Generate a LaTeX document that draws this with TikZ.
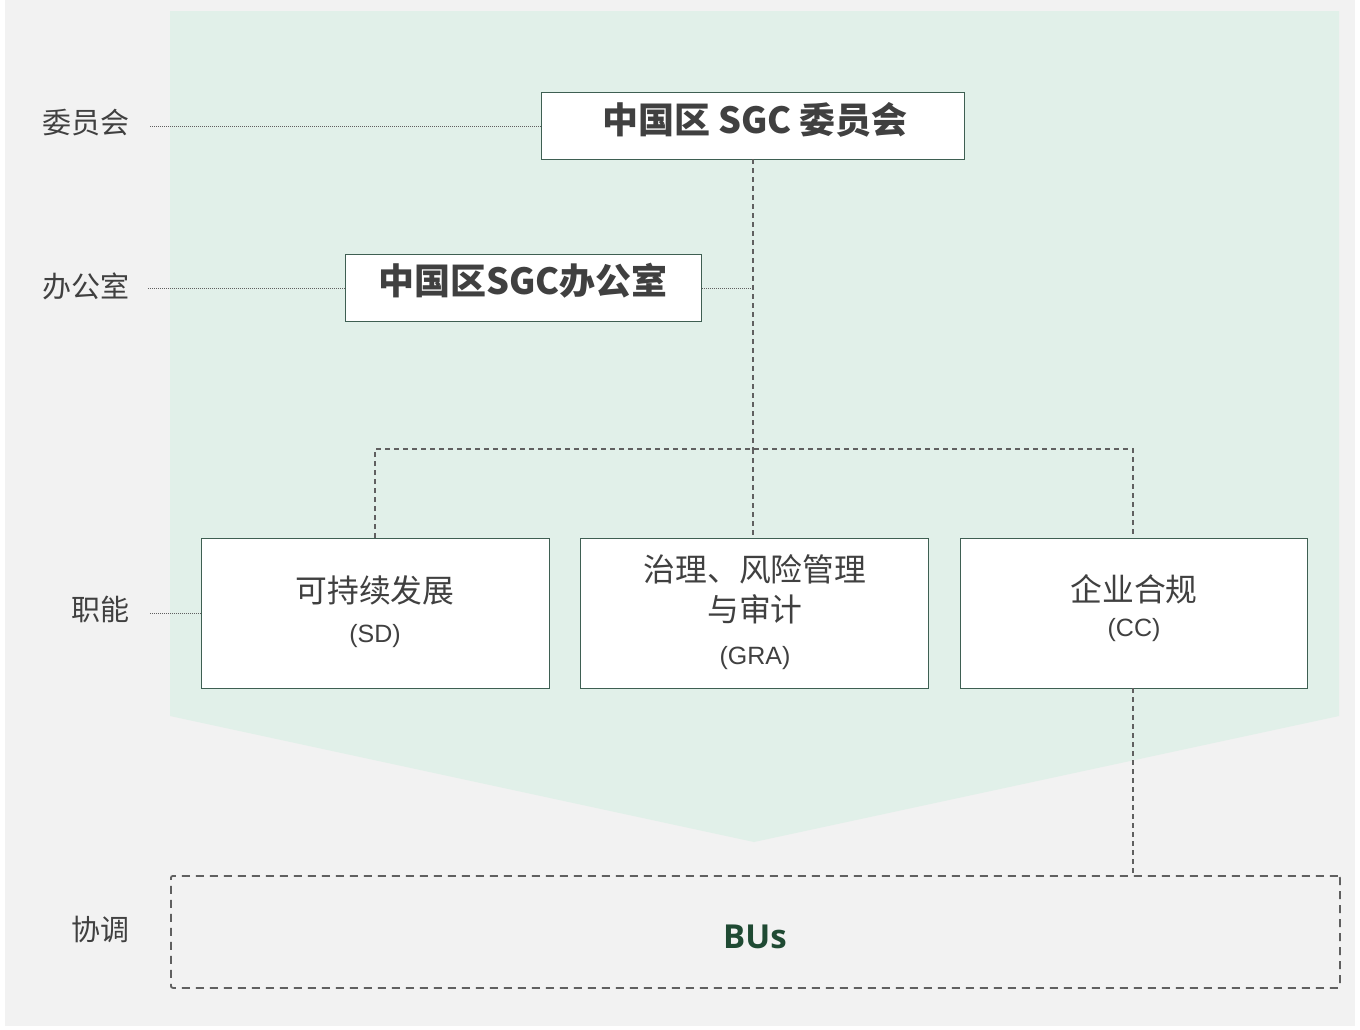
\documentclass[tikz,border=0pt]{standalone}
\usepackage{fontspec}
\setmainfont{Noto Sans CJK SC}
\newfontfamily\latinfont{Liberation Sans}
\newfontfamily\busfont{Open Sans}
\definecolor{bggray}{HTML}{F2F2F2}
\definecolor{bggreen}{HTML}{E1F0E9}
\definecolor{boxline}{HTML}{3E5F52}
\definecolor{txt}{HTML}{404040}
\definecolor{lnk}{HTML}{606060}
\definecolor{busgreen}{HTML}{1F4A33}
\begin{document}
\begin{tikzpicture}[x=1pt,y=-1pt,
  orgbox/.style={draw=boxline,line width=1.2pt,fill=white,inner sep=0pt,anchor=north west},
  lvl/.style={text=txt,font=\fontsize{29}{32}\selectfont,anchor=east,inner sep=0pt},
  dotln/.style={draw=lnk,line width=0.9pt,dash pattern=on 1pt off 1pt},
  dashln/.style={draw=lnk,line width=1.2pt,dash pattern=on 5pt off 4pt},
  ttl/.style={text=txt,inner sep=0pt}]
\useasboundingbox (0,0) rectangle (1360,1029);
\fill[white] (0,0) rectangle (1360,1029);
\fill[bggray] (5,0) rectangle (1355,1026);
\fill[bggreen] (170,11) -- (1339,11) -- (1339,716) -- (754,842) -- (170,716) -- cycle;

% boxes
\node[orgbox,minimum width=423pt,minimum height=67pt] (com) at (541,92) {};
\node[orgbox,minimum width=356pt,minimum height=67pt] (off) at (345,254) {};
\node[orgbox,minimum width=348pt,minimum height=150pt] (sd) at (201,538) {};
\node[orgbox,minimum width=348pt,minimum height=150pt] (gra) at (580,538) {};
\node[orgbox,minimum width=347pt,minimum height=150pt] (cc) at (960,538) {};
\node[draw=lnk,line width=1.8pt,dash pattern=on 8pt off 6pt,rounded corners=2pt,minimum width=1169pt,minimum height=112pt,anchor=north west,inner sep=0pt] (bus) at (170,875) {};

% box texts
\node[ttl,font=\fontsize{36}{38}\selectfont\bfseries] (comt) at (755,120) {中国区 SGC 委员会};
\node[ttl,font=\fontsize{36}{38}\selectfont\bfseries] (offt) at (523,281) {中国区SGC办公室};
\node[ttl,font=\fontsize{31.8}{34}\selectfont] (sdt) at (375,590) {可持续发展};
\node[ttl,font=\latinfont\fontsize{25}{28}\selectfont] (sda) at (375,636) {(SD)};
\node[ttl,font=\fontsize{31.8}{34}\selectfont] (grt1) at (755,569) {治理、风险管理};
\node[ttl,font=\fontsize{31.8}{34}\selectfont] (grt2) at (755,609) {与审计};
\node[ttl,font=\latinfont\fontsize{25}{28}\selectfont] (gra2) at (755,658) {(GRA)};
\node[ttl,font=\fontsize{31.8}{34}\selectfont] (cct) at (1134,589) {企业合规};
\node[ttl,font=\latinfont\fontsize{25}{28}\selectfont] (cca) at (1134,630) {(CC)};
\node[text=busgreen,inner sep=0pt,font=\busfont\fontsize{33}{36}\selectfont\bfseries] (bust) at (755,937) {BUs};

% level labels
\node[lvl] (l1) at (130,123) {委员会};
\node[lvl] (l2) at (130,286) {办公室};
\node[lvl] (l3) at (130,609) {职能};
\node[lvl] (l4) at (130,929) {协调};
\coordinate (d1) at (150,126);
\coordinate (d2) at (148,288);
\coordinate (d3) at (150,613);

% dotted leaders
\draw[dotln] (d1) -- (com.west|-d1);
\draw[dotln] (d2) -- (off.west|-d2);
\draw[dotln] (d3) -- (sd.west|-d3);
\coordinate (bus1) at (753,449);
\draw[dotln] (off.east|-d2) -- (753,288);

% dashed tree
\draw[dashln] (753,159) -- (bus1);
\draw[dashln] (375,538) -- (375,449) -- (1133,449) -- (1133,538);
\draw[dashln] (bus1) -- (753,538);
\draw[dashln] (1133,688) -- (1133,875);
\end{tikzpicture}
\end{document}
